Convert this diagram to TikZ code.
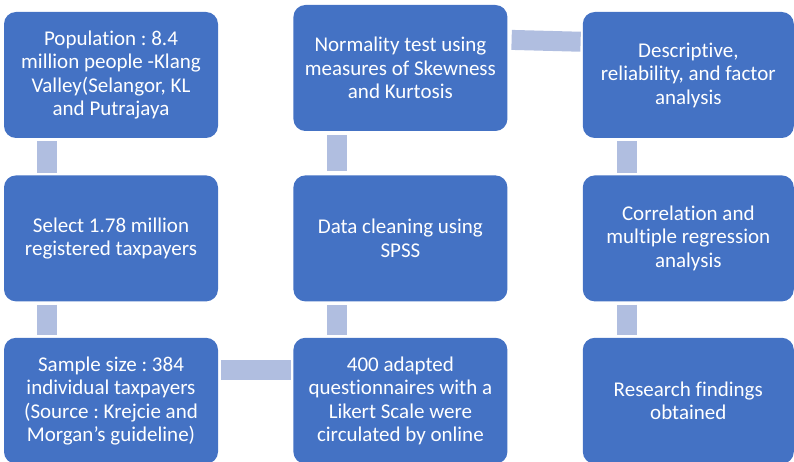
\documentclass[tikz,border=0pt]{standalone}
\usepackage{fontspec}
\setmainfont[Ligatures={NoCommon,NoDiscretionary}]{Carlito}
\usetikzlibrary{positioning}
\definecolor{boxblue}{HTML}{4472C4}
\definecolor{linkblue}{HTML}{B0BEE0}
\frenchspacing
\tikzset{
  stage/.style={rectangle,rounded corners=12pt,fill=boxblue,draw=none,text=white,align=center,inner sep=0pt,minimum width=214pt,minimum height=126pt,font=\fontsize{21}{23.5}\selectfont},
  laststage/.style={stage,minimum width=211pt},
  link/.style={draw=linkblue,line width=20pt,shorten <=3pt,shorten >=2pt}
}
\begin{document}
\begin{tikzpicture}[x=1pt,y=1pt,node distance=36pt and 75pt]
\useasboundingbox (0,0) rectangle (794,-462);
\node[stage] (pop) at (111,-75) {Population : 8.4\\million people -Klang\\Valley(Selangor, KL\\and Putrajaya};
\node[stage,below=37pt of pop] (sel) {Select 1.78 million\\registered taxpayers};
\node[stage,below=36pt of sel] (smp) {Sample size : 384\\individual taxpayers\\(Source : Krejcie and\\Morgan’s guideline)};
\node[stage,right=75pt of smp] (qst) {400 adapted\\questionnaires with a\\Likert Scale were\\circulated by online};
\node[stage,above=36pt of qst] (cln) {Data cleaning using\\SPSS};
\node[stage,above=44pt of cln] (nrm) {Normality test using\\measures of Skewness\\and Kurtosis};
\node[laststage,right=75pt of cln] (cor) {Correlation and\\multiple regression\\analysis};
\node[laststage,above=37pt of cor] (dsc) {Descriptive,\\reliability, and factor\\analysis};
\node[laststage,below=36pt of cor] (fnd) {Research findings\\obtained};
\draw[link] ([xshift=43pt]pop.south west) -- ([xshift=43pt]sel.north west);
\draw[link,shorten >=3pt] ([xshift=43pt]sel.south west) -- ([xshift=43pt]smp.north west);
\draw[link] ([yshift=-32pt]smp.north east) -- ([yshift=-32pt]qst.north west);
\draw[link,shorten >=3pt] ([xshift=43.5pt]qst.north west) -- ([xshift=43.5pt]cln.south west);
\draw[link,shorten <=4pt,shorten >=4pt] ([xshift=43.5pt]cln.north west) -- ([xshift=43.5pt]nrm.south west);
\draw[link,shorten <=4pt] ([yshift=-35pt]nrm.north east) -- ([yshift=-30pt]dsc.north west);
\draw[link] ([xshift=44.5pt]dsc.south west) -- ([xshift=44.5pt]cor.north west);
\draw[link,shorten >=3pt] ([xshift=44.5pt]cor.south west) -- ([xshift=44.5pt]fnd.north west);
\end{tikzpicture}
\end{document}
